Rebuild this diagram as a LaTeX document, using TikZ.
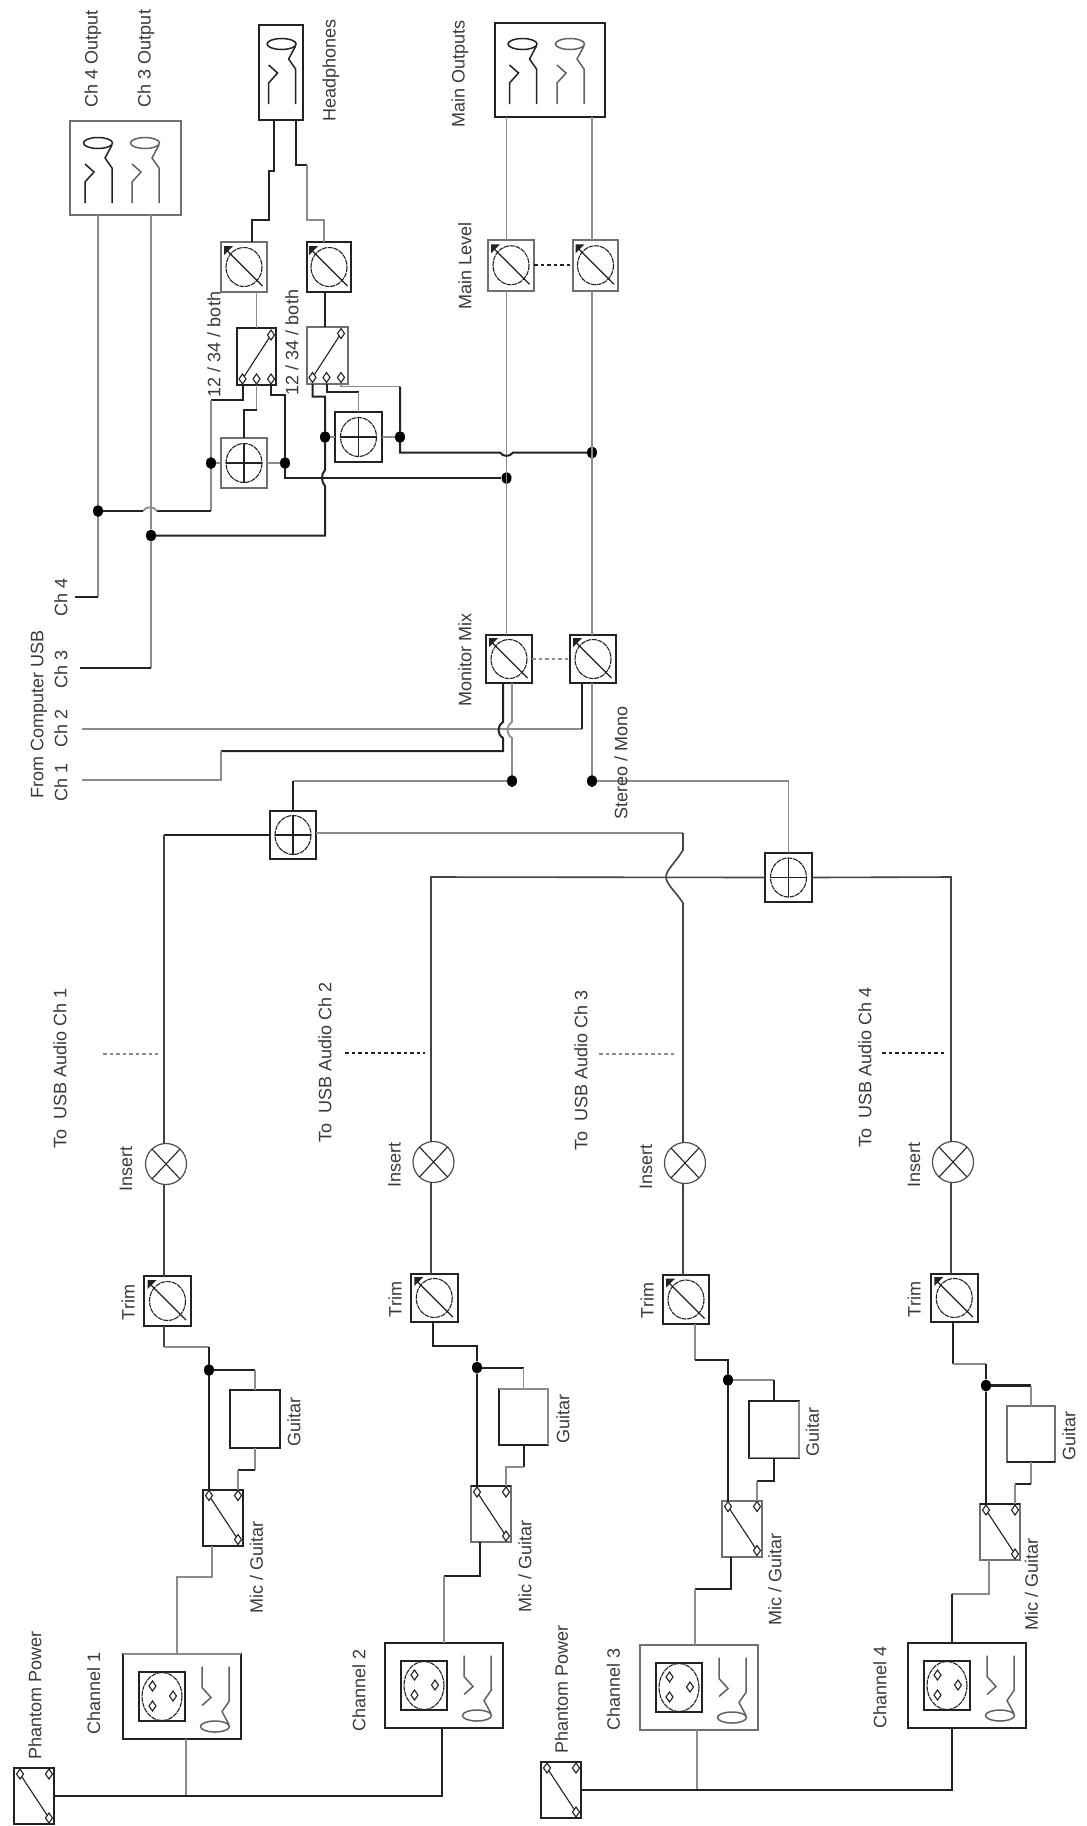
\documentclass[tikz,border=0pt]{standalone}
\usepackage{fontspec}
\setmainfont{Liberation Sans}
\usetikzlibrary{calc,shapes.geometric}
\definecolor{ink}{HTML}{222222}
\definecolor{ash}{HTML}{8C8C8C}
\definecolor{txt}{HTML}{3A3A3A}
\tikzset{
  wb/.style={draw=ink,line width=2pt},
  wd/.style={draw=ink!85,line width=1.6pt},
  wg/.style={draw=ash,line width=1.8pt},
  bb/.style={draw=ink,line width=2pt,fill=white,inner sep=0pt,outer sep=0pt,rectangle},
  bg/.style={draw=ash!80!black,line width=2pt,fill=white,inner sep=0pt,outer sep=0pt,rectangle},
  glyph/.style={draw=ink,line width=1.1pt},
  dialline/.style={draw=ink,line width=1.1pt,dash pattern=on 5pt off 0.8pt},
  insert/.style={circle,draw=ink!80,line width=1.2pt,fill=white,inner sep=0pt,outer sep=0pt,minimum size=41pt},
  juncdot/.style={ellipse,fill=black,inner sep=0pt,minimum width=10pt,minimum height=12pt},
  lab/.style={rotate=90,inner sep=0pt,text=txt,font=\fontsize{18}{20}\selectfont},
  gang/.style={line width=2pt,dash pattern=on 3.5pt off 3pt},
}
\newcommand{\mBx}[6]{\node[#2,minimum width=#5pt,minimum height=#6pt] (#1) at ({#3+#5/2},{#4+#6/2}) {};}
\newcommand{\mLb}[4]{\node[lab] (#1) at (#2,#3) {#4};}
\newcommand{\mDia}[2]{\draw[glyph,fill=white] (#1,{#2-5}) -- ({#1+3.5},#2) -- (#1,{#2+5}) -- ({#1-3.5},#2) -- cycle;}
\newcommand{\mPot}[6]{\mBx{#1}{#2}{#3}{#4}{#5}{#6}
  \begin{scope}[shift={(#1.center)}]
    \draw[dialline] (0,0) ellipse[x radius=18,y radius=19.5];
    \draw[glyph] (-18.5,-18) -- (18.5,19);
    \fill[ink] (-20,-21) -- (-11,-21) -- (-20,-12) -- cycle;
  \end{scope}}
\newcommand{\mSum}[6]{\mBx{#1}{#2}{#3}{#4}{#5}{#6}
  \begin{scope}[shift={(#1.center)}]
    \draw[dialline] (0,0) ellipse[x radius=18,y radius=19.5];
    \draw[glyph] (-18,0) -- (18,0) (0,-19.5) -- (0,19.5);
  \end{scope}}
\newcommand{\mIns}[3]{\node[insert] (#1) at (#2,#3) {};
  \draw[glyph] (#2-14,#3-15) -- (#2+14,#3+15) (#2-14,#3+15) -- (#2+14,#3-15);}
% mic / guitar style switch: terminals a (top left), b (top right); c = bottom port
\newcommand{\mSwM}[4]{\mBx{#1}{#2}{#3}{#4}{40}{56}
  \begin{scope}[shift={(#1.north west)}]
    \coordinate (#1a) at (6,6); \coordinate (#1b) at (35,6); \coordinate (#1d) at (35,50); \coordinate (#1c) at (9,56);
    \draw[glyph] (#1a) -- (#1d);
    \mDia{6}{6} \mDia{35}{6} \mDia{35}{50}
  \end{scope}}
% 12/34 switch: terminals a b c along the bottom, d top right
\newcommand{\mSwT}[6]{\mBx{#1}{#2}{#3}{#4}{#5}{#6}
  \begin{scope}[shift={(#1.north west)}]
    \coordinate (#1a) at (5.5,51); \coordinate (#1b) at (19.5,51); \coordinate (#1c) at (34,51); \coordinate (#1d) at (34,7);
    \draw[glyph] (#1a) -- (#1d);
    \mDia{5.5}{51} \mDia{19.5}{51} \mDia{34}{51} \mDia{34}{7}
  \end{scope}}
\newcommand{\mJack}[3]{\begin{scope}[shift={(#2,#3)},#1]
    \draw (0,0) ellipse[x radius=14.5,y radius=5.5];
    \draw (14,2) -- (7,15) -- (14,25) -- (14,60);
    \draw (-13,60) -- (-13,39) -- (-4,29) -- (-13,21);
  \end{scope}}
\tikzset{jd/.style={draw=ink,line width=1.5pt},jg/.style={draw=ash!70!black,line width=1.5pt}}
\newcommand{\mChan}[4]{\mBx{#1}{#2}{#3}{#4}{118}{85}
  \begin{scope}[shift={(#1.north west)}]
    \draw[draw=ink,line width=2pt] (16,18) rectangle (62,67);
    \draw[dialline] (39,42.5) ellipse[x radius=20,y radius=24];
    \mDia{29.5}{32} \mDia{50}{42} \mDia{29.5}{52}
    \mJack{jg,yscale=-1}{92}{72.5}
  \end{scope}}
\begin{document}
\begin{tikzpicture}[x=1pt,y=-1pt]
\useasboundingbox (0,0) rectangle (1087,1826);
\fill[white] (0,0) rectangle (1087,1826);
% ---------- output boxes
\mBx{outbox}{bg}{70}{121}{111}{94}
\mJack{jd}{98}{143}\mJack{jg}{145}{143}
\mBx{hpbox}{bb}{259}{24.5}{44}{95.5}
\mJack{jd}{281.6}{44}
\mBx{mainbox}{bb}{495}{23}{110}{94}
\mJack{jd}{522.5}{44}\mJack{jg}{570}{44}
% ---------- pots, summers, switches
\mPot{hpotL}{bg}{221}{242}{46}{50}
\mPot{hpotR}{bb}{307}{242}{44}{50}
\mPot{mlL}{bg}{488}{240}{46}{50.5}
\mPot{mlR}{bg}{573}{240}{45}{50.5}
\mPot{monL}{bb}{486}{635}{46}{48}
\mPot{monR}{bb}{570}{635}{46}{48}
\mSwT{swL}{bb}{237}{328}{39}{57}
\mSwT{swR}{bg}{307}{326.5}{41}{57.5}
\mSum{sumA}{bg}{221}{438}{46}{50}
\mSum{sumB}{bb}{335}{412}{47}{50}
\mSum{sumL}{bb}{270}{811}{46}{48}
\mSum{sumR}{bb}{765}{853}{47}{49}
% ---------- channel strips
\mIns{ins1}{166}{1164}\mIns{ins2}{433.5}{1162}\mIns{ins3}{685}{1163}\mIns{ins4}{953}{1162}
\mPot{trim1}{bb}{144}{1276}{47}{50}
\mPot{trim2}{bb}{411}{1274}{46.5}{48}
\mPot{trim3}{bb}{663}{1275}{46}{49}
\mPot{trim4}{bb}{931}{1274}{46.5}{48}
\mBx{gtr1}{bb}{230}{1390}{50}{58}
\mBx{gtr2}{bb}{499}{1389}{49}{56}
\mBx{gtr3}{bb}{749}{1401}{50}{56.5}
\mBx{gtr4}{bg}{1007}{1406}{48}{56}
\draw[wg] (gtr2.south east) -- (gtr2.north east) -- (gtr2.north west);
\draw[wg] (gtr3.north east) -- (gtr3.south east) -- (gtr3.south west);
\draw[wb] (gtr4.south west) -- (gtr4.south east);
\mSwM{sw1}{bb}{203}{1489.5}
\mSwM{sw2}{bg}{471}{1486}
\mSwM{sw3}{bg}{722}{1500.5}
\mSwM{sw4}{bg}{980}{1504}
\draw[wb] (sw2.north west) -- (sw2.north east);
\draw[wb] (sw4.north west) -- (sw4.north east);
\mChan{ch1}{bb}{123}{1654}
\mChan{ch2}{bb}{385}{1643}
\mChan{ch3}{bg}{640}{1645}
\mChan{ch4}{bb}{908}{1643}
\draw[wg] (ch1.north west) -- (ch1.north east);
\mSwM{ph1}{bb}{14}{1768}
\mSwM{ph2}{bb}{541}{1762}
% ---------- free ends
\coordinate (c4e) at (75,597);
\coordinate (c3b) at (151,668);
\coordinate (c3e) at (80,668);
\coordinate (c2e) at (82,729);
\coordinate (c2b) at (582,729);
\coordinate (c1e) at (82,780);
\coordinate (c1b) at (221,780);
\coordinate (c1c) at (221,751);
\coordinate (c1d) at (503,751);
\coordinate (hpL) at (274,120);
\coordinate (hpR) at (295.5,120);
\coordinate (hpLin) at (252,242);
\coordinate (hpRin) at (324,242);
\coordinate (swRin) at (325,326.5);
\coordinate (w1) at (164,835);
\coordinate (w2) at (431,877);
\coordinate (w3) at (683,833);
\coordinate (w4) at (951,877);
% ---------- junction dots
\node[juncdot] (d4) at (98,511) {};
\node[juncdot] (d3) at (151,535.5) {};
\node[juncdot] (dLa) at (211,463) {};
\node[juncdot] (dLc) at (285,463) {};
\node[juncdot] (dRa) at (325,437) {};
\node[juncdot] (dRc) at (400,437) {};
\node[juncdot] (dM1) at (506.5,478) {};
\node[juncdot] (dM2) at (592,452.5) {};
\node[juncdot] (dS1) at (512,781) {};
\node[juncdot] (dS2) at (592,781) {};
\node[juncdot] (dg1) at (209,1370) {};
\node[juncdot] (dg2) at (477,1367.5) {};
\node[juncdot] (dg3) at (728,1380) {};
\node[juncdot] (dg4) at (986,1385.5) {};
% ---------- upper wiring
\draw[wg] (d4 |- outbox.south) -- (d4) -- (98,597);
\draw[wb] (98,597) -- (c4e);
\draw[wg] (d3 |- outbox.south) -- (d3) -- (c3b);
\draw[wb] (c3b) -- (c3e);
\draw[wb] (hpL) -- (274,171) -- (269,171) -- (269,220) -- (252,220) -- (hpLin);
\draw[wb] (hpR) -- (295.5,165) -- (307,165);
\draw[wg] (307,165) -- (307,220) -- (324,220) -- (hpRin);
\draw[wg] (dM1 |- mainbox.south) -- (dM1 |- mlL.north);
\draw[wg] (dM2 |- mainbox.south) -- (dM2 |- mlR.north);
\draw[wg] (dM1 |- mlL.south) -- (dM1 |- monL.north);
\draw[wg] (dM2 |- mlR.south) -- (dM2 |- monR.north);
\draw[wg] (swLb |- hpotL.south) -- (swLb |- swL.north);
\draw[wb] (swRin |- hpotR.south) -- (swRin);
\draw[wb] (swLa |- swL.south) -- (242.5,400) -- (211,400);
\draw[wg] (211,400) -- (dLa) -- (211,511);
\draw[wb] (211,511) -- (157,511);
\draw[wg] (157,511) .. controls (154,506) and (146,506) .. (143,511);
\draw[wb] (143,511) -- (d4);
\draw[wg] (swLb |- swL.south) -- (256.5,410);
\draw[wb] (256.5,410) -- (244,410) -- (sumA.north);
\draw[wb] (swLc |- swL.south) -- (271,394.5) -- (285,394.5) -- (dLc) -- (285,478) -- (dM1);
\draw[wb] (swRa |- swR.south) -- (312.5,396.5) -- (325,396.5) -- (dRa) -- (325,470) .. controls (321,474) and (321,482) .. (325,486) -- (325,535.5) -- (d3);
\draw[wb] (swRb |- swR.south) -- (326.5,392) -- (358.5,392);
\draw[wg] (358.5,392) -- (sumB.north);
\draw[wg] (swRc |- swR.south) -- (341,386.5) -- (400,386.5);
\draw[wb] (400,386.5) -- (dRc) -- (400,452.5) -- (500,452.5) .. controls (503,457) and (510,457) .. (513,452.5) -- (dM2);
\draw[wg] (dLa) -- (sumA.west) (sumA.east) -- (dLc) (dRa) -- (sumB.west) (sumB.east) -- (dRc);
\draw[ink,gang] (mlL.east) -- (mlR.west);
\draw[ash,gang] (monL.east) -- (monR.west);
% ---------- monitor mix wiring
\draw[wg] (c2e) -- (c2b);
\draw[wb] (c2b) -- (c2b |- monR.south);
\draw[wb] (c1d |- monL.south) -- (503,722) .. controls (497,726) and (497,734) .. (503,738) -- (c1d) -- (c1c);
\draw[wg] (c1c) -- (c1b) -- (c1e);
\draw[wg] (dS1 |- monL.south) -- (512,722) .. controls (506,726) and (506,734) .. (512,738) -- (dS1);
\draw[wg] (dS2 |- monR.south) -- (dS2);
\draw[wg] (dS1) -- (sumL.north |- dS1);
\draw[wb] (sumL.north |- dS1) -- (sumL.north);
\draw[wg] (dS2) -- (sumR.north |- dS2) -- (sumR.north);
% ---------- bus to the channels
\draw[wb] (sumL.west) -- (w1);
\draw[wd] (w1) -- (w1 |- ins1.north);
\draw[wg] ([yshift=2pt]sumL.east) -- (w3);
\draw[wd] (w3) -- (683,850) .. controls (676,862) and (666,870) .. (666,877) .. controls (666,884) and (676,892) .. (683,903) -- (w3 |- ins3.north);
\draw[wd] (w2 |- ins2.north) -- (w2) -- (sumR.west);
\draw[wd] (sumR.east) -- (w4) -- (w4 |- ins4.north);
% ---------- USB sends
\coordinate (u1a) at (103,1054); \coordinate (u1b) at (158,1054);
\coordinate (u2a) at (345,1053); \coordinate (u2b) at (425,1053);
\coordinate (u3a) at (599,1054); \coordinate (u3b) at (677,1054);
\coordinate (u4a) at (882,1053); \coordinate (u4b) at (945,1053);
\draw[ash,gang] (u1a) -- (u1b);
\draw[ink,gang] (u2a) -- (u2b);
\draw[ash,gang] (u3a) -- (u3b);
\draw[ink,gang] (u4a) -- (u4b);
% ---------- channel 1
\draw[wd] (w1 |- ins1.south) -- (w1 |- trim1.north);
\draw[wd] (w1 |- trim1.south) -- (164,1347);
\draw[wg] (164,1347) -- (209,1347);
\draw[wb] (209,1347) -- (dg1) -- (dg1 |- sw1.north);
\draw[wb] (dg1) -- (gtr1.north |- dg1);
\draw[wg] (gtr1.north |- dg1) -- (gtr1.north);
\draw[wg] (gtr1.south) -- (255,1470);
\draw[wb] (255,1470) -- (238,1470);
\draw[wg] (238,1470) -- (sw1b |- sw1.north);
\coordinate (ch1t) at (177,1654);
\draw[wg] (sw1c) -- (212,1577) -- (177,1577) -- (ch1t);
\coordinate (ch1s) at (186,1739);
\draw[wg] (ch1s) -- (ch1s |- ph1.east);
\coordinate (ch2s) at (442,1728);
\draw[wb] (ph1.east) -| (ch2s);
% ---------- channel 2
\draw[wd] (w2 |- ins2.south) -- (w2 |- trim2.north);
\draw[wb] (433,1322) -- (433,1345.5) -- (477,1345.5) -- (dg2) -- (dg2 |- sw2.north);
\draw[wb] (dg2) -- (gtr2.north |- dg2);
\draw[wg] (gtr2.north |- dg2) -- (gtr2.north);
\draw[wb] (gtr2.south) -- (523.5,1467);
\draw[wg] (523.5,1467) -- (506,1467) -- (sw2b |- sw2.north);
\coordinate (ch2t) at (444,1643);
\draw[wb] (sw2c) -- (480,1576) -- (444,1576);
\draw[wg] (444,1576) -- (ch2t);
% ---------- channel 3
\draw[wd] (w3 |- ins3.south) -- (w3 |- trim3.north);
\draw[wg] (695,1324) -- (695,1359.5);
\draw[wb] (695,1359.5) -- (728,1359.5) -- (dg3) -- (dg3 |- sw3.north);
\draw[wg] (dg3) -- (gtr3.north |- dg3);
\draw[wb] (gtr3.north |- dg3) -- (gtr3.north);
\draw[wb] (gtr3.south) -- (774,1481) -- (757,1481);
\draw[wg] (757,1481) -- (sw3b |- sw3.north);
\coordinate (ch3t) at (695,1645);
\draw[wb] (sw3c) -- (731,1589) -- (695,1589);
\draw[wg] (695,1589) -- (ch3t);
\coordinate (ch3s) at (697,1730);
\draw[wg] (ch3s) -- (ch3s |- ph2.east);
\coordinate (ch4s) at (952,1728);
\draw[wb] (ph2.east) -| (ch4s);
% ---------- channel 4
\draw[wd] (w4 |- ins4.south) -- (w4 |- trim4.north);
\draw[wb] (952.5,1322) -- (952.5,1364);
\draw[wg] (952.5,1364) -- (986,1364);
\draw[wb] (986,1364) -- (dg4) -- (dg4 |- sw4.north);
\draw[wb,line width=2.6pt] (dg4) -- (gtr4.north |- dg4);
\draw[wg] (gtr4.north |- dg4) -- (gtr4.north);
\draw[wg] (gtr4.south) -- (1031,1484);
\draw[wb] (1031,1484) -- (1015,1484);
\draw[wg] (1015,1484) -- (sw4b |- sw4.north);
\coordinate (ch4t) at (952,1643);
\draw[wg] (sw4c) -- (989,1594) -- (952,1594);
\draw[wb] (952,1594) -- (ch4t);
% ---------- labels
\mLb{lCh4o}{93}{59}{Ch 4 Output}
\mLb{lCh3o}{146}{58.5}{Ch 3 Output}
\mLb{lHp}{331}{70.5}{Headphones}
\mLb{lMo}{460}{74}{Main Outputs}
\mLb{lMl}{465}{266}{Main Level}
\mLb{lB1}{214}{344.5}{12 / 34 / both}
\mLb{lB2}{292}{342.5}{12 / 34 / both}
\mLb{lc4}{61}{597}{Ch 4}
\mLb{lc3}{61}{669}{Ch 3}
\mLb{lc2}{61}{728.5}{Ch 2}
\mLb{lc1}{61}{782.5}{Ch 1}
\mLb{lFrom}{39}{714.5}{From Computer USB}
\mLb{lMm}{465}{660}{Monitor Mix}
\mLb{lSm}{621}{762.5}{Stereo / Mono}
\mLb{lU1}{60}{1068}{To\ \ USB Audio Ch 1}
\mLb{lU2}{325}{1062}{To\ \ USB Audio Ch 2}
\mLb{lU3}{581}{1070.5}{To\ \ USB Audio Ch 3}
\mLb{lU4}{865}{1067}{To\ \ USB Audio Ch 4}
\mLb{lI1}{126}{1168.5}{Insert}
\mLb{lI2}{394.5}{1165}{Insert}
\mLb{lI3}{646}{1166.5}{Insert}
\mLb{lI4}{914}{1165}{Insert}
\mLb{lT1}{128}{1302.5}{Trim}
\mLb{lT2}{395}{1299.5}{Trim}
\mLb{lT3}{647}{1300.5}{Trim}
\mLb{lT4}{914}{1299.5}{Trim}
\mLb{lG1}{294}{1421.5}{Guitar}
\mLb{lG2}{563}{1418.5}{Guitar}
\mLb{lG3}{812.5}{1432}{Guitar}
\mLb{lG4}{1069}{1436}{Guitar}
\mLb{lM1}{256.5}{1567}{Mic / Guitar}
\mLb{lM2}{525}{1566}{Mic / Guitar}
\mLb{lM3}{775}{1579.5}{Mic / Guitar}
\mLb{lM4}{1031.5}{1584}{Mic / Guitar}
\mLb{lC1}{93.6}{1693.5}{Channel 1}
\mLb{lC2}{359}{1690.5}{Channel 2}
\mLb{lC3}{613.5}{1689}{Channel 3}
\mLb{lC4}{880}{1687}{Channel 4}
\mLb{lP1}{35}{1695}{Phantom Power}
\mLb{lP2}{561.5}{1689.5}{Phantom Power}
\end{tikzpicture}
\end{document}
